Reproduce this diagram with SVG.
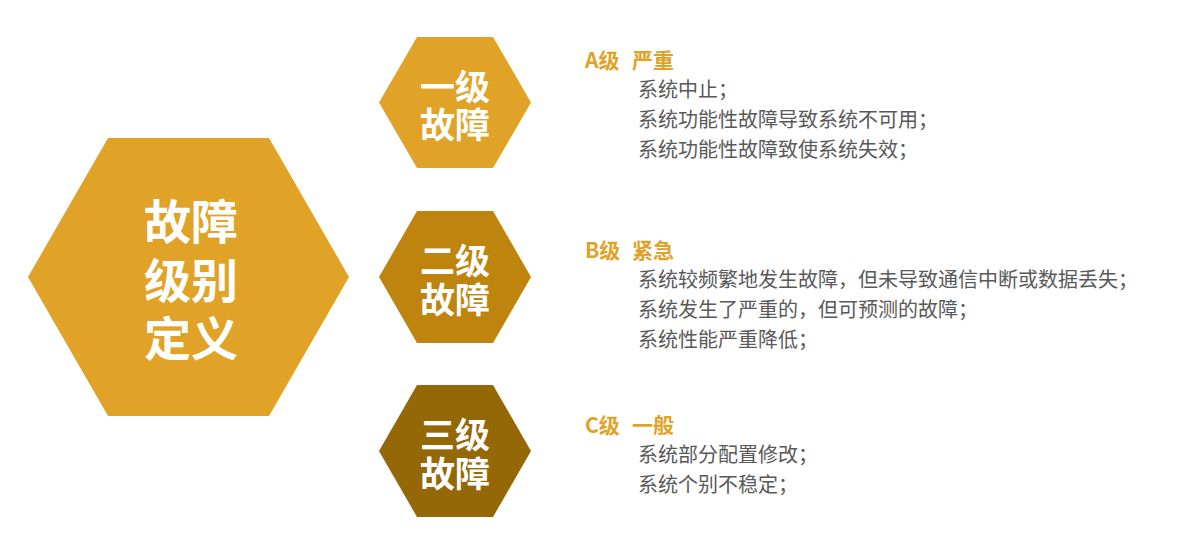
<svg xmlns="http://www.w3.org/2000/svg" width="1177" height="557" viewBox="0 0 1177 557">
<style>
.hl{font-family:"Noto Sans CJK SC","Noto Sans",sans-serif;font-weight:bold;fill:#fff;text-anchor:middle;dominant-baseline:central}
.big{font-size:47px}
.mid{font-size:35px}
.hd{font-family:"Noto Sans CJK SC","Noto Sans",sans-serif;font-weight:bold;font-size:21px;fill:#E0A328;dominant-baseline:central}
.it{font-family:"Noto Sans CJK SC","Noto Sans",sans-serif;font-size:20px;fill:#595959;dominant-baseline:central}
</style>
<rect width="1177" height="557" fill="#fff"/>
<g id="main">
<polygon points="28,277 108,138 269,138 349,277 269,416 108,416" fill="#E0A328"/>
<text class="hl big" x="191" y="218">故障<tspan x="191" y="277">级别</tspan><tspan x="191" y="335">定义</tspan></text>
</g>
<g id="level1">
<polygon points="379,102.5 417,37 493,37 531,102.5 493,168 417,168" fill="#E0A328"/>
<text class="hl mid" x="455" y="84">一级<tspan x="455" y="122">故障</tspan></text>
</g>
<g id="level2">
<polygon points="379,277 417,211 493,211 531,277 493,343 417,343" fill="#BE840E"/>
<text class="hl mid" x="455" y="258.5">二级<tspan x="455" y="296.5">故障</tspan></text>
</g>
<g id="level3">
<polygon points="379,451 417,385 493,385 531,451 493,517 417,517" fill="#946707"/>
<text class="hl mid" x="455" y="432.5">三级<tspan x="455" y="470.5">故障</tspan></text>
</g>
<g id="descA">
<text class="hd" x="585" y="59">A级<tspan x="632">严重</tspan></text>
<text class="it" x="638" y="88">系统中止；</text>
<text class="it" x="638" y="118">系统功能性故障导致系统不可用；</text>
<text class="it" x="638" y="148">系统功能性故障致使系统失效；</text>
</g>
<g id="descB">
<text class="hd" x="585" y="249">B级<tspan x="632">紧急</tspan></text>
<text class="it" x="638" y="278">系统较频繁地发生故障，但未导致通信中断或数据丢失；</text>
<text class="it" x="638" y="308">系统发生了严重的，但可预测的故障；</text>
<text class="it" x="638" y="338">系统性能严重降低；</text>
</g>
<g id="descC">
<text class="hd" x="585" y="424">C级<tspan x="632">一般</tspan></text>
<text class="it" x="638" y="453">系统部分配置修改；</text>
<text class="it" x="638" y="483">系统个别不稳定；</text>
</g>
<g id="connectors"/>
</svg>
